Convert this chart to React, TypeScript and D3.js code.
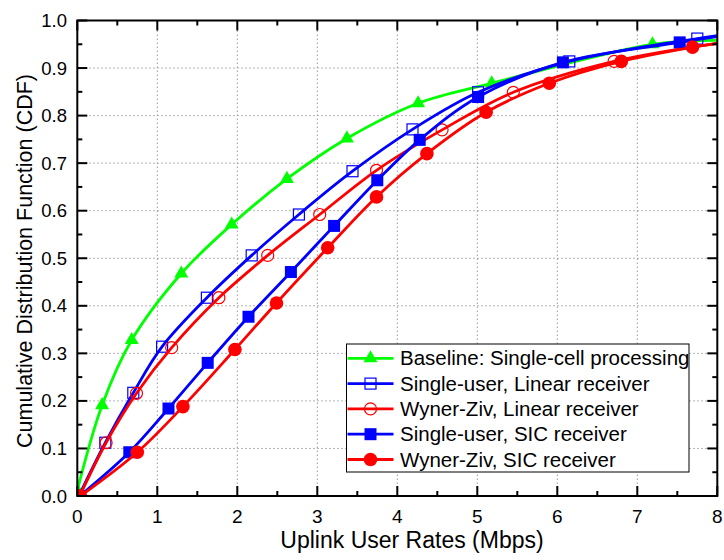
import React from "react";
import * as d3 from "d3";

const xTicks = [0, 1, 2, 3, 4, 5, 6, 7, 8];
const yTicks = [0.0, 0.1, 0.2, 0.3, 0.4, 0.5, 0.6, 0.7, 0.8, 0.9, 1.0];

// Baseline: Single-cell processing
const baseX = [0.0, 0.31, 0.68, 1.3, 1.93, 2.62, 3.37, 4.26, 5.18, 7.19, 8.0];
const baseY = [0.012, 0.191, 0.328, 0.468, 0.571, 0.667, 0.752, 0.826, 0.868, 0.95, 0.958];
// Single-user, Linear receiver
const suLinX = [0.02, 0.35, 0.7, 1.06, 1.62, 2.18, 2.77, 3.44, 4.19, 5.01, 6.15, 7.75, 8.0];
const suLinY = [0.0, 0.112, 0.217, 0.314, 0.417, 0.506, 0.592, 0.683, 0.771, 0.849, 0.914, 0.962, 0.968];
// Wyner-Ziv, Linear receiver
const wzLinX = [0.03, 0.36, 0.74, 1.18, 1.77, 2.38, 3.03, 3.74, 4.56, 5.45, 6.71, 8.0];
const wzLinY = [0.0, 0.112, 0.216, 0.312, 0.417, 0.506, 0.592, 0.685, 0.77, 0.849, 0.914, 0.952];
// Single-user, SIC receiver
const suSicX = [0.03, 0.65, 1.14, 1.63, 2.14, 2.67, 3.21, 3.75, 4.28, 5.01, 6.07, 7.53, 8.0];
const suSicY = [0.0, 0.092, 0.184, 0.28, 0.377, 0.471, 0.568, 0.664, 0.749, 0.839, 0.912, 0.954, 0.966];
// Wyner-Ziv, SIC receiver
const wzSicX = [0.04, 0.75, 1.32, 1.97, 2.49, 3.13, 3.74, 4.37, 5.11, 5.9, 6.8, 7.69, 8.0];
const wzSicY = [0.0, 0.092, 0.188, 0.308, 0.406, 0.522, 0.629, 0.72, 0.807, 0.868, 0.914, 0.944, 0.952];

const seriesNames = [
  "Baseline: Single-cell processing",
  "Single-user, Linear receiver",
  "Wyner-Ziv, Linear receiver",
  "Single-user, SIC receiver",
  "Wyner-Ziv, SIC receiver",
];

const xLabel = "Uplink User Rates (Mbps)";
const yLabel = "Cumulative Distribution Function (CDF)";

const GREEN = "#00ff00";
const BLUE = "#0000ff";
const RED = "#ff0000";

type Marker = "tri" | "sqOpen" | "circOpen" | "sqFill" | "circFill";

const series: { name: string; xs: number[]; ys: number[]; color: string; marker: Marker }[] = [
  { name: seriesNames[0], xs: baseX, ys: baseY, color: GREEN, marker: "tri" },
  { name: seriesNames[1], xs: suLinX, ys: suLinY, color: BLUE, marker: "sqOpen" },
  { name: seriesNames[2], xs: wzLinX, ys: wzLinY, color: RED, marker: "circOpen" },
  { name: seriesNames[3], xs: suSicX, ys: suSicY, color: BLUE, marker: "sqFill" },
  { name: seriesNames[4], xs: wzSicX, ys: wzSicY, color: RED, marker: "circFill" },
];

const FONT = "'Liberation Sans', Arial, Helvetica, sans-serif";

function MarkerShape({ type, color, cx, cy }: { type: Marker; color: string; cx: number; cy: number }) {
  switch (type) {
    case "tri":
      return <path d={d3.symbol(d3.symbolTriangle, 85)() as string} transform={`translate(${cx},${cy})`} fill={color} />;
    case "sqOpen":
      return <rect x={cx - 5.5} y={cy - 5.5} width={11} height={11} fill="none" stroke={color} strokeWidth={1.2} />;
    case "circOpen":
      return <circle cx={cx} cy={cy} r={6} fill="none" stroke={color} strokeWidth={1.2} />;
    case "sqFill":
      return <rect x={cx - 6} y={cy - 6} width={12} height={12} fill={color} />;
    case "circFill":
      return <circle cx={cx} cy={cy} r={6.8} fill={color} />;
  }
}

export default function App() {
  const W = 724;
  const H = 560;
  const x = d3.scaleLinear().domain([0, 8]).range([77.3, 717.3]);
  const y = d3.scaleLinear().domain([0, 1]).range([496, 20.5]);
  const [x0, x1] = x.range();
  const [y0, y1] = y.range();

  const line = d3
    .line<[number, number]>()
    .x((d) => x(d[0]))
    .y((d) => y(d[1]))
    .curve(d3.curveCatmullRom.alpha(0.5));

  const xMinor = d3.range(0.5, 8, 1);
  const yMinor = d3.range(0.05, 1, 0.1);

  const legX = 346.5;
  const legY = 344;
  const legW = 342.5;
  const legH = 128;
  const rowH = 25.3;

  return (
    <svg width={W} height={H} style={{ position: "absolute", left: 0, top: 0, background: "#fff" }} fontFamily={FONT}>
      <rect width={W} height={H} fill="#fff" />
      <defs>
        <clipPath id="plotclip">
          <rect x={x0} y={y1 - 8} width={x1 - x0 + 8} height={y0 - y1 + 8} />
        </clipPath>
      </defs>
      {/* grid */}
      {xTicks.slice(1, -1).map((t) => (
        <line key={"gx" + t} x1={x(t)} x2={x(t)} y1={y0} y2={y1} stroke="#999" strokeWidth={1} strokeDasharray="1.5,2.5" />
      ))}
      {yTicks.slice(1, -1).map((t) => (
        <line key={"gy" + t} x1={x0} x2={x1} y1={y(t)} y2={y(t)} stroke="#999" strokeWidth={1} strokeDasharray="1.5,2.5" />
      ))}

      {/* series */}
      <g clipPath="url(#plotclip)">
        {series.map((s, i) => {
          const pts: [number, number][] = s.xs.map((xv, j) => [xv, s.ys[j]]);
          return (
            <g key={"s" + i}>
              <path d={line(pts) as string} fill="none" stroke={s.color} strokeWidth={2.8} />
              {pts.slice(0, -1).map((p, j) => (
                <MarkerShape key={j} type={s.marker} color={s.color} cx={x(p[0])} cy={y(p[1])} />
              ))}
            </g>
          );
        })}
      </g>

      {/* frame */}
      <rect x={x0} y={y1} width={x1 - x0} height={y0 - y1} fill="none" stroke="#000" strokeWidth={2} />
      {/* ticks */}
      {xTicks.map((t) => (
        <g key={"xt" + t}>
          <line x1={x(t)} x2={x(t)} y1={y0} y2={y0 - 10} stroke="#000" strokeWidth={2} />
          <line x1={x(t)} x2={x(t)} y1={y1} y2={y1 + 10} stroke="#000" strokeWidth={2} />
          <text x={x(t)} y={523} textAnchor="middle" fontSize={19} fill="#000">
            {d3.format("d")(t)}
          </text>
        </g>
      ))}
      {xMinor.map((t) => (
        <g key={"xm" + t}>
          <line x1={x(t)} x2={x(t)} y1={y0} y2={y0 - 5} stroke="#000" strokeWidth={2} />
          <line x1={x(t)} x2={x(t)} y1={y1} y2={y1 + 5} stroke="#000" strokeWidth={2} />
        </g>
      ))}
      {yTicks.map((t) => (
        <g key={"yt" + t}>
          <line x1={x0} x2={x0 + 10} y1={y(t)} y2={y(t)} stroke="#000" strokeWidth={2} />
          <line x1={x1} x2={x1 - 10} y1={y(t)} y2={y(t)} stroke="#000" strokeWidth={2} />
          <text x={67} y={y(t) + 6.5} textAnchor="end" fontSize={18.5} fill="#000">
            {d3.format(".1f")(t)}
          </text>
        </g>
      ))}
      {yMinor.map((t) => (
        <g key={"ym" + t}>
          <line x1={x0} x2={x0 + 5} y1={y(t)} y2={y(t)} stroke="#000" strokeWidth={2} />
          <line x1={x1} x2={x1 - 5} y1={y(t)} y2={y(t)} stroke="#000" strokeWidth={2} />
        </g>
      ))}

      {/* axis titles */}
      <text x={412} y={548} textAnchor="middle" fontSize={23} fill="#000">
        {xLabel}
      </text>
      <text transform={`translate(32,261) rotate(-90)`} textAnchor="middle" fontSize={21.5} fill="#000">
        {yLabel}
      </text>

      {/* legend */}
      <rect x={legX} y={legY} width={legW} height={legH} fill="#fff" stroke="#000" strokeWidth={1} />
      {series.map((s, i) => {
        const cy = legY + 14.3 + i * rowH;
        return (
          <g key={"lg" + i}>
            <line x1={legX + 1} x2={legX + 47} y1={cy} y2={cy} stroke={s.color} strokeWidth={2.8} />
            <MarkerShape type={s.marker} color={s.color} cx={legX + 24} cy={cy} />
            <text x={legX + 53.5} y={cy + 7} fontSize={20.5} fill="#000">
              {s.name}
            </text>
          </g>
        );
      })}
    </svg>
  );
}
